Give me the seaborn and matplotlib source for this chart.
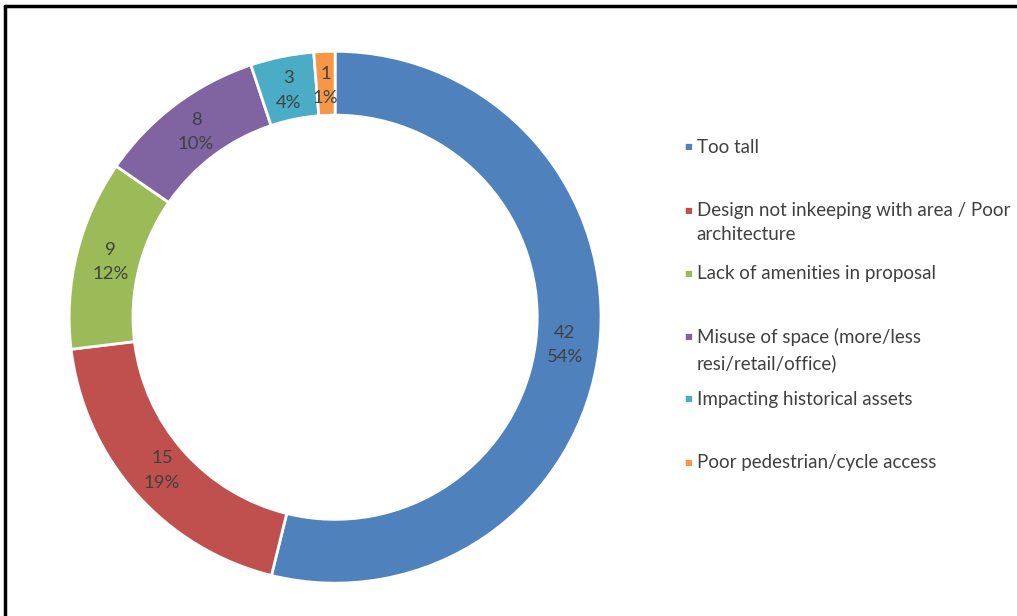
import numpy as np
import seaborn as sns
import matplotlib.pyplot as plt
from matplotlib.lines import Line2D

sns.set_theme(style="white")
plt.rcParams['font.family'] = ['Lato', 'DejaVu Sans']

categorias = ["Too tall",
              "Design not inkeeping with area / Poor\narchitecture",
              "Lack of amenities in proposal",
              "Misuse of space (more/less\nresi/retail/office)",
              "Impacting historical assets",
              "Poor pedestrian/cycle access"]
contagens = [42, 15, 9, 8, 3, 1]
percentuais = ["54%", "19%", "12%", "10%", "4%", "1%"]
cores = ["#4F81BD", "#C0504D", "#9BBB59", "#8064A2", "#4BACC6", "#F79646"]

fig = plt.figure(figsize=(10.17, 6.16), dpi=100)
ax = fig.add_axes([0.068, 0.053, 0.523, 0.864])

fatias, _ = ax.pie(contagens, colors=cores, startangle=90, counterclock=False,
                   radius=1, wedgeprops=dict(width=0.24, edgecolor="white", linewidth=2))
ax.set_xlim(-1, 1)
ax.set_ylim(-1, 1)
ax.set_aspect("equal")
ax.axis("off")

# rótulos dentro do anel
for f, n, p in zip(fatias, contagens, percentuais):
    ang = np.deg2rad((f.theta1 + f.theta2) / 2)
    ax.text(0.87 * np.cos(ang), 0.87 * np.sin(ang), f"{n}\n{p}",
            ha="center", va="center", fontsize=13.3, color="#404040", linespacing=1.65)

# legenda manual
y0 = 1 - 147 / 616
passo = 63 / 616
for i, (cat, cor) in enumerate(zip(categorias, cores)):
    y = y0 - i * passo
    fig.text(0.6725, y, "■", color=cor, fontsize=6, va="center", ha="left",
             family="DejaVu Sans")
    fig.text(0.685, y + 0.0125, cat, color="#404040", fontsize=13.5, va="top",
             ha="left", linespacing=1.5)

# moldura
fig.add_artist(Line2D([5 / 1017, 5 / 1017], [0, 1 - 6 / 616], color="black",
                      lw=2.5, transform=fig.transFigure))
fig.add_artist(Line2D([5 / 1017, 1], [1 - 6 / 616, 1 - 6 / 616], color="black",
                      lw=2.5, transform=fig.transFigure))

fig.savefig("out.png", dpi=100)
